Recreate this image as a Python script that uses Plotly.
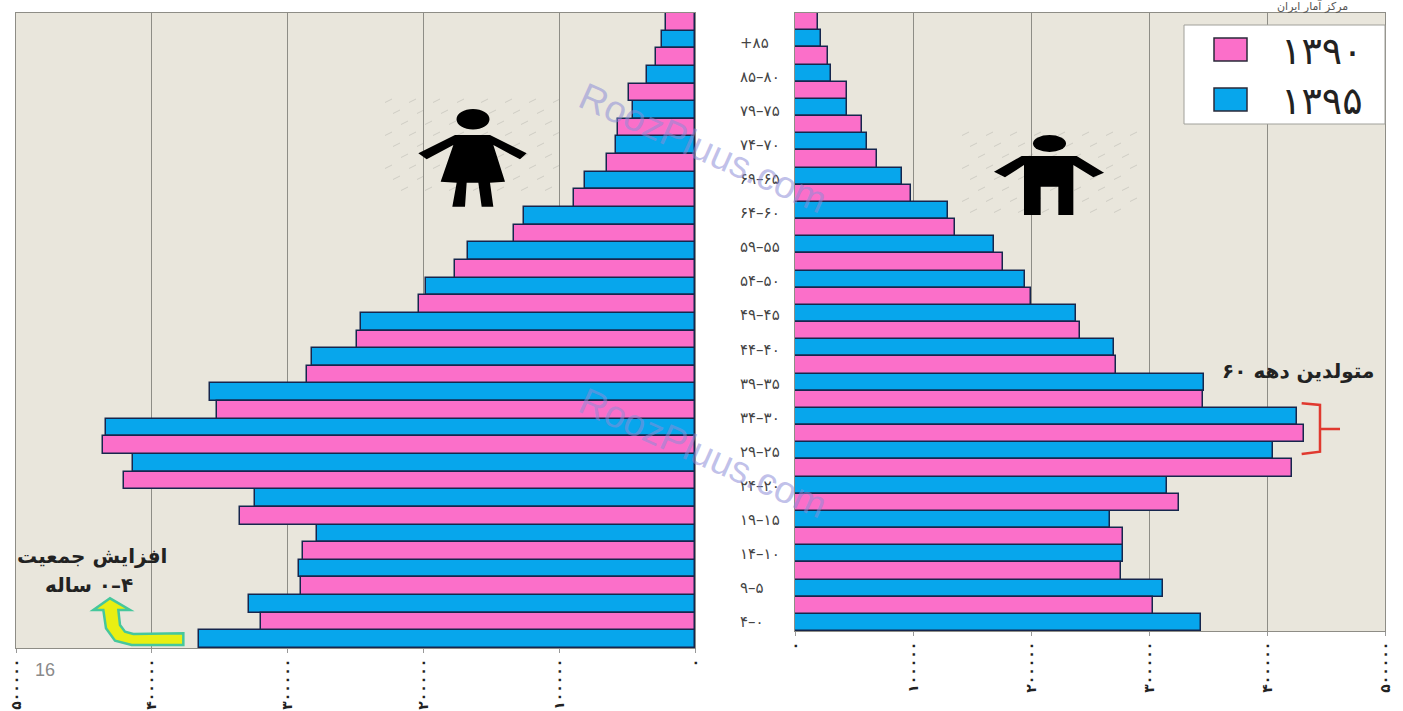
import plotly.graph_objects as go

W, H = 1403, 711

# Categories bottom to top (Persian digits)
age_groups = ["۴–۰", "۹–۵", "۱۴–۱۰", "۱۹–۱۵", "۲۴–۲۰", "۲۹–۲۵", "۳۴–۳۰", "۳۹–۳۵", "۴۴–۴۰",
              "۴۹–۴۵", "۵۴–۵۰", "۵۹–۵۵", "۶۴–۶۰", "۶۹–۶۵", "۷۴–۷۰", "۷۹–۷۵", "۸۵–۸۰", "+۸۵"]

female_1390 = [319500, 290000, 288500, 335000, 420400, 435900, 351900, 285600, 248700,
               203000, 176500, 133000, 88800, 64500, 56400, 48300, 28400, 21000]
female_1395 = [365200, 328300, 291500, 278200, 323900, 413800, 433700, 357100, 281900,
               245800, 197900, 166900, 125700, 80700, 57900, 45300, 35000, 24000]
male_1390 = [303400, 276300, 278000, 325400, 421200, 431400, 345800, 272000, 241500,
             200000, 176300, 135600, 98300, 69500, 56800, 44000, 28000, 19500]
male_1395 = [344100, 311900, 278000, 266900, 315300, 405100, 425400, 346600, 270300,
             238100, 194900, 168600, 129700, 90700, 61000, 44000, 30500, 22000]

x_ticks = [0, 100000, 200000, 300000, 400000, 500000]
x_tick_labels = ["۰", "۱۰۰۰۰۰", "۲۰۰۰۰۰", "۳۰۰۰۰۰", "۴۰۰۰۰۰", "۵۰۰۰۰۰"]

PINK, BLUE, EDGE = "#fb6fc9", "#07a6ec", "#16264d"
BG, GRID = "#e9e6dc", "#8e8d86"
FA = "DejaVu Sans"


def px(x):
    return x / W


def py(y):
    return 1 - y / H


def poly(points, close=True):
    s = "M" + " L".join(f"{px(a):.5f},{py(b):.5f}" for a, b in points)
    return s + (" Z" if close else "")


def shape_path(points, fill="rgba(0,0,0,0)", color="rgba(0,0,0,0)", width=0, close=True):
    return dict(type="path", xref="paper", yref="paper", path=poly(points, close),
                fillcolor=fill, line=dict(color=color, width=width), layer="above")


fig = go.Figure()
for name, vals, col, xa, ya in [
    ("۱۳۹۵", female_1395, BLUE, "x", "y"),
    ("۱۳۹۰", female_1390, PINK, "x", "y"),
    ("۱۳۹۵", male_1395, BLUE, "x2", "y2"),
    ("۱۳۹۰", male_1390, PINK, "x2", "y2"),
]:
    fig.add_bar(y=age_groups, x=vals, orientation="h", name=name, xaxis=xa, yaxis=ya,
                marker=dict(color=col, line=dict(color=EDGE, width=1.5)), showlegend=False)

shapes = []
annots = []

# Hatching behind the icons
for x0, y0, x1, y1 in [(385, 100, 560, 195), (962, 133, 1135, 218)]:
    row = 0
    y = y0
    while y < y1:
        x = x0 + (row % 3) * 8
        while x < x1:
            shapes.append(dict(type="line", xref="paper", yref="paper", x0=px(x), y0=py(y + 2.5),
                               x1=px(x + 7), y1=py(y - 1), layer="below",
                               line=dict(color="#cfcdc4", width=1)))
            x += 24
        y += 11
        row += 1

# Female icon
fz = [(240, 135), (345, 135), (455, 190), (435, 208), (355, 165), (390, 275), (345, 278), (355, 350),
      (320, 350), (310, 278), (275, 278), (270, 350), (232, 350), (245, 278), (197, 275), (235, 165),
      (155, 208), (130, 190)]
shapes.append(shape_path([(375 + a / 3, 90 + b / 3) for a, b in fz], fill="black"))
shapes.append(dict(type="circle", xref="paper", yref="paper", x0=px(456.5), x1=px(489.5), y0=py(109), y1=py(129.5),
                   fillcolor="black", line=dict(width=0), layer="above"))
# Male icon
mz = [(215, 108), (380, 108), (462, 158), (430, 172), (370, 135), (370, 285), (325, 285), (325, 200),
      (272, 200), (272, 285), (222, 285), (222, 135), (165, 172), (132, 155)]
shapes.append(shape_path([(950 + a / 3, 120 + b / 3) for a, b in mz], fill="black"))
shapes.append(dict(type="circle", xref="paper", yref="paper", x0=px(1033), x1=px(1066), y0=py(135), y1=py(152),
                   fillcolor="black", line=dict(width=0), layer="above"))

# Red bracket
bz = [(305, 160), (360, 165), (360, 237), (420, 237), (360, 237), (360, 305), (305, 312)]
shapes.append(shape_path([(1200 + a / 3, 350 + b / 3) for a, b in bz], color="#e0392f", width=2.5, close=False))

# Yellow arrow
az = [(550, 310), (550, 345), (395, 345), (345, 332), (318, 295), (310, 240), (280, 240), (330, 205),
      (390, 240), (355, 240), (360, 285), (375, 305), (400, 312)]
shapes.append(shape_path([(a / 3, 530 + b / 3) for a, b in az], fill="#e9ef12", color="#46c79c", width=2.5))

# Legend box
shapes.append(dict(type="rect", xref="paper", yref="paper", x0=px(1184), x1=px(1385), y0=py(25), y1=py(124),
                   fillcolor="white", line=dict(color="#a0a09a", width=1), layer="above"))
for top, col, label in [(38, PINK, "۱۳۹۰"), (88, BLUE, "۱۳۹۵")]:
    shapes.append(dict(type="rect", xref="paper", yref="paper", x0=px(1214), x1=px(1247), y0=py(top), y1=py(top + 23),
                       fillcolor=col, line=dict(color="#2a2a3a", width=1.5), layer="above"))
    annots.append(dict(xref="paper", yref="paper", x=px(1322), y=py(top + 13), text=label, showarrow=False,
                       font=dict(family=FA, size=38, color="#222"), xanchor="center", yanchor="middle"))

# Age labels in the gap
for i, lab in enumerate(reversed(age_groups)):
    annots.append(dict(xref="paper", yref="paper", x=px(738), y=py(43 + 34.06 * i), text=lab, showarrow=False,
                       font=dict(family=FA, size=15, color="#444"), xanchor="left", yanchor="middle"))

# Text notes
for x, y, t, s, c in [
    (1298, 371, "<b>متولدین دهه ۶۰</b>", 20, "#222"),
    (92, 556, "<b>افزایش جمعیت</b>", 20, "#222"),
    (89, 585, "<b>\u200eساله\u200e ۰–۴</b>", 20, "#222"),
    (1312, 6, "مرکز آمار ایران", 11, "#555"),
]:
    annots.append(dict(xref="paper", yref="paper", x=px(x), y=py(y), text=t, showarrow=False,
                       font=dict(family=FA, size=s, color=c), xanchor="center", yanchor="middle"))
annots.append(dict(xref="paper", yref="paper", x=px(45), y=py(670), text="16", showarrow=False,
                   font=dict(family="Liberation Sans", size=18, color="#8a8a8a"), xanchor="center", yanchor="middle"))
for y in (148, 453):
    annots.append(dict(xref="paper", yref="paper", x=px(703), y=py(y), text="RoozPluus.com", showarrow=False,
                       textangle=24, font=dict(family="Liberation Sans", size=38, color="rgba(140,140,215,0.55)"),
                       xanchor="center", yanchor="middle"))

axis_common = dict(tickvals=x_ticks, ticktext=x_tick_labels, tickangle=-90, showgrid=True, gridcolor=GRID,
                   gridwidth=1, ticks="outside", ticklen=4, tickcolor="#999", zeroline=False,
                   showline=True, linecolor=GRID, mirror=True,
                   tickfont=dict(family=FA, size=14, color="#222", weight="bold"))
y_common = dict(type="category", categoryorder="array", categoryarray=age_groups, showticklabels=False,
                ticks="", showgrid=False, zeroline=False, showline=True, linecolor=GRID, mirror=True)

fig.update_layout(
    width=W, height=H, margin=dict(l=0, r=0, t=0, b=0, autoexpand=False), autosize=False,
    paper_bgcolor="white", plot_bgcolor=BG, barmode="group", bargap=0, bargroupgap=0,
    showlegend=False,
    xaxis=dict(domain=[px(16), px(695)], range=[500000, 0], anchor="y", **axis_common),
    yaxis=dict(domain=[py(648), py(13)], anchor="x", **y_common),
    xaxis2=dict(domain=[px(795), px(1385)], range=[0, 500000], anchor="y2", **axis_common),
    yaxis2=dict(domain=[py(631), py(13)], anchor="x2", **y_common),
    shapes=shapes, annotations=annots,
)

fig.write_html("out.html", config=dict(displayModeBar=False),
               post_script="document.body.style.margin='0';document.documentElement.style.overflow='hidden';")
